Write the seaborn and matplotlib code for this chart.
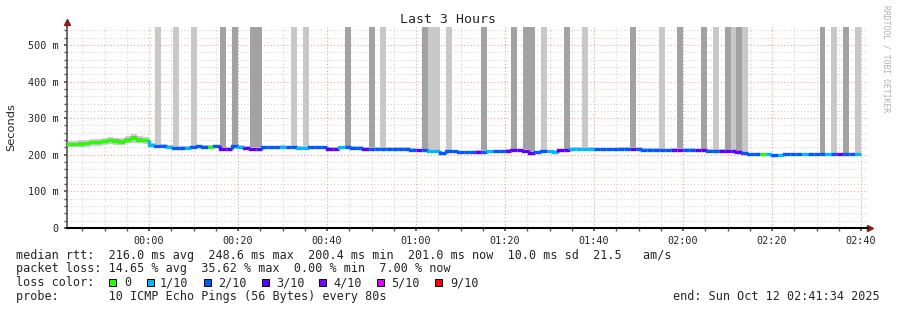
import numpy as np
import pandas as pd
import matplotlib
matplotlib.use("Agg")
import matplotlib.pyplot as plt
import seaborn as sns
from matplotlib.patches import Rectangle

# ---------------- data ----------------
step_minutes = 80 / 60.0          # 80 s probe interval
first_step_min = -18.65           # 23:41:21, minutes relative to 00:00
view_start_min = -18.43           # 23:41:34
view_end_min = 161.57             # 02:41:34

median_ms = [229, 229, 230, 231, 234, 234, 237, 239, 237, 236, 241, 245, 241, 239,
             226, 225, 225, 222, 219, 219, 218, 221, 223, 221, 222, 223, 217, 217,
             223, 222, 218, 217, 217, 221, 221, 221, 222, 221, 221, 219, 219, 221,
             221, 221, 217, 217, 220, 220, 219, 219, 216, 217, 217, 217, 217, 216,
             216, 216, 214, 213, 212, 210, 209, 204, 210, 210, 207, 207, 207, 208,
             208, 209, 209, 210, 211, 213, 213, 211, 206, 207, 210, 210, 208, 213,
             213, 216, 217, 217, 217, 215, 215, 215, 215, 216, 216, 216, 216, 214,
             214, 214, 214, 213, 214, 214, 214, 214, 213, 213, 211, 211, 211, 209,
             209, 207, 205, 203, 203, 202, 202, 200, 200, 203, 203, 203, 201, 201,
             201, 202, 201, 202, 202, 201, 201, 201]

loss_count = [0, 0, 0, 0, 0, 0, 0, 0, 0, 0, 0, 0, 0, 0,
              1, 2, 2, 1, 2, 2, 1, 2, 2, 2, 0, 2, 3, 3,
              2, 1, 3, 3, 3, 2, 2, 2, 1, 2, 2, 1, 1, 2,
              2, 2, 3, 3, 1, 2, 2, 2, 3, 2, 2, 2, 2, 2,
              2, 2, 2, 3, 2, 1, 1, 2, 2, 2, 2, 2, 2, 3,
              2, 1, 2, 2, 3, 3, 3, 3, 3, 2, 2, 1, 1, 3,
              3, 1, 1, 1, 1, 2, 2, 2, 2, 2, 2, 3, 2, 2,
              2, 2, 2, 2, 3, 3, 2, 2, 3, 3, 2, 2, 3, 3,
              3, 3, 2, 2, 2, 0, 1, 2, 1, 2, 2, 2, 1, 2,
              2, 2, 1, 2, 3, 2, 2, 1]

smoke_ms = [9, 9, 9, 9, 9, 9, 9, 9, 10, 10, 10, 12, 10, 9,
            5, 5, 5, 5, 5, 5, 5, 5, 5, 5, 5, 5, 5, 5,
            4, 4, 5, 5, 5, 4, 4, 4, 4, 4, 4, 5, 5, 4,
            4, 4, 5, 5, 4, 4, 4, 4, 5, 4, 4, 4, 4, 4,
            4, 4, 4, 4, 4, 4, 4, 4, 4, 4, 4, 4, 4, 4,
            4, 4, 4, 4, 4, 4, 4, 4, 5, 4, 4, 4, 4, 4,
            4, 4, 4, 4, 4, 4, 4, 4, 4, 4, 4, 4, 4, 4,
            4, 4, 4, 4, 4, 4, 4, 4, 4, 4, 4, 4, 4, 4,
            4, 4, 4, 3, 3, 2, 2, 2, 2, 2, 2, 2, 2, 2,
            2, 3, 2, 3, 3, 2, 2, 2]

# tall smoke bars: 0 none, 1 light, 2 dark
lost_smoke = [0] * 134
for i in [15, 18, 21, 38, 40, 53, 61, 62, 64, 80, 87, 100, 109, 112, 114, 129, 133]:
    lost_smoke[i] = 1
for i in [26, 28, 31, 32, 47, 51, 60, 70, 75, 77, 78, 84, 95, 103, 107, 111, 113, 127, 131]:
    lost_smoke[i] = 2

loss_labels = ["0", "1/10", "2/10", "3/10", "4/10", "5/10", "9/10"]
loss_colors = ["#26ff00", "#00b8ff", "#0059ff", "#5e00ff", "#7e00ff", "#dd00ff", "#ff0000"]

x_tick_min = [0, 20, 40, 60, 80, 100, 120, 140, 160]
x_tick_labels = ["00:00", "00:20", "00:40", "01:00", "01:20", "01:40", "02:00", "02:20", "02:40"]
y_ticks = [0, 100, 200, 300, 400, 500]
y_tick_labels = ["0", "100 m", "200 m", "300 m", "400 m", "500 m"]

stats_lines = [
    "median rtt:  216.0 ms avg  248.6 ms max  200.4 ms min  201.0 ms now  10.0 ms sd  21.5   am/s",
    "packet loss: 14.65 % avg  35.62 % max  0.00 % min  7.00 % now",
]
probe_line = "probe:       10 ICMP Echo Pings (56 Bytes) every 80s"
end_text = "end: Sun Oct 12 02:41:34 2025"

df = pd.DataFrame({"median": median_ms, "loss": loss_count,
                   "smoke": smoke_ms, "lost": lost_smoke})
df["t"] = first_step_min + step_minutes * np.arange(len(df))

# ---------------- figure ----------------
sns.set_theme(style="white")
mono = ["DejaVu Sans Mono"]
plt.rcParams["font.family"] = mono

W, H = 897, 310
fig = plt.figure(figsize=(W / 100, H / 100), dpi=100)
fig.patch.set_facecolor("white")
ax = fig.add_axes([67 / W, 82 / H, 801 / W, 201 / H])
ax.set_facecolor("white")
ymax = 549
ax.set_xlim(view_start_min, view_end_min)
ax.set_ylim(0, ymax)

# grid
minor_x = np.arange(-15, 161, 5)
minor_y = np.arange(20, ymax, 20)
for xv in minor_x:
    if xv % 20 != 0:
        ax.axvline(xv, color="#d4d4d4", lw=0.8, ls=(0, (1, 2)), zorder=0)
for yv in minor_y:
    if yv % 100 != 0:
        ax.axhline(yv, color="#d4d4d4", lw=0.8, ls=(0, (1, 2)), zorder=0)
for xv in x_tick_min:
    ax.axvline(xv, color="#f0a0a0", lw=0.8, ls=(0, (1, 2)), zorder=0.5)
for yv in y_ticks[1:]:
    ax.axhline(yv, color="#f0a0a0", lw=0.8, ls=(0, (1, 2)), zorder=0.5)

# tall smoke bars for lost pings
bar_colors = {1: "#c8c8c8", 2: "#a2a2a2"}
for lvl in (1, 2):
    sub = df[df["lost"] == lvl]
    ax.bar(sub["t"], ymax - sub["median"], bottom=sub["median"], width=step_minutes,
           align="edge", color=bar_colors[lvl], lw=0, zorder=1)

# smoke around median
ax.bar(df["t"], 2 * df["smoke"], bottom=df["median"] - df["smoke"], width=step_minutes,
       align="edge", color="#cccccc", lw=0, zorder=2)
ax.bar(df["t"], df["smoke"], bottom=df["median"] - df["smoke"] / 2, width=step_minutes,
       align="edge", color="#a0a0a0", lw=0, zorder=2.5)

# median line coloured by loss
prev = df["median"].iloc[0]
for _, r in df.iterrows():
    c = loss_colors[int(r["loss"])]
    ax.plot([r["t"], r["t"], r["t"] + step_minutes], [prev, r["median"], r["median"]],
            color=c, lw=2.4, solid_capstyle="butt", solid_joinstyle="miter", zorder=3)
    prev = r["median"]

# axes
for s in ["top", "right"]:
    ax.spines[s].set_visible(False)
ax.spines["left"].set_color("#555555")
ax.spines["left"].set_linewidth(1.2)
ax.spines["bottom"].set_color("black")
ax.spines["bottom"].set_linewidth(1.5)
ax.set_xticks(x_tick_min)
ax.set_xticklabels(x_tick_labels, fontsize=7.3, family=mono)
ax.set_yticks(y_ticks)
ax.set_yticklabels(y_tick_labels, fontsize=7.3, family=mono)
ax.set_xticks(minor_x, minor=True)
ax.set_yticks(minor_y, minor=True)
ax.tick_params(axis="x", which="both", length=2, pad=4, color="#555555", direction="out")
ax.tick_params(axis="y", which="both", length=2, pad=4, color="#555555", direction="out")
ax.tick_params(which="both", bottom=True, left=True)

# axis arrows
ax.plot([0, 0], [1.0, 1.025], transform=ax.transAxes, color="#555555", lw=1.2, clip_on=False)
ax.plot([0], [1.025], marker="^", ms=4.5, color="#8b1a1a", transform=ax.transAxes, clip_on=False)
ax.plot([1.0025], [0], marker=">", ms=4.5, color="#8b1a1a", transform=ax.transAxes, clip_on=False)

# title and axis label
fig.text(448 / W, 1 - 19.5 / H, "Last 3 Hours", fontsize=9.5, family=mono, va="center", ha="center")
fig.text(11 / W, 1 - 127 / H, "Seconds", fontsize=8.2, family=["DejaVu Sans"], rotation=90,
         va="center", ha="center")

# footer text
fs = 8.5
fig.text(16 / W, 1 - 255 / H, stats_lines[0], fontsize=fs, family=mono, va="center", ha="left")
fig.text(16 / W, 1 - 268.5 / H, stats_lines[1], fontsize=fs, family=mono, va="center", ha="left")
fig.text(16 / W, 1 - 282.5 / H, "loss color:", fontsize=fs, family=mono, va="center", ha="left")
sq_x = [109, 146.7, 204, 261.7, 319.3, 376.7, 435]
txt_x = [124, 160, 218.3, 276, 333.3, 390.7, 450]
for sx, tx, lab, col in zip(sq_x, txt_x, loss_labels, loss_colors):
    fig.patches.append(Rectangle((sx / W, 1 - 285.5 / H), 7 / W, 7 / H, transform=fig.transFigure,
                                 facecolor=col, edgecolor="black", lw=0.7))
    fig.text(tx / W, 1 - 282.5 / H, lab, fontsize=fs, family=mono, va="center", ha="left")
fig.text(16 / W, 1 - 296.5 / H, probe_line, fontsize=fs, family=mono, va="center", ha="left")
fig.text(880 / W, 1 - 296.5 / H, end_text, fontsize=fs, family=mono, va="center", ha="right")

fig.text(886 / W, 1 - 5 / H, "RRDTOOL / TOBI OETIKER", fontsize=5.8, family=mono,
         color="#b0b0b0", rotation=270, va="top", ha="center")

fig.savefig("out.png", dpi=100, facecolor="white")
